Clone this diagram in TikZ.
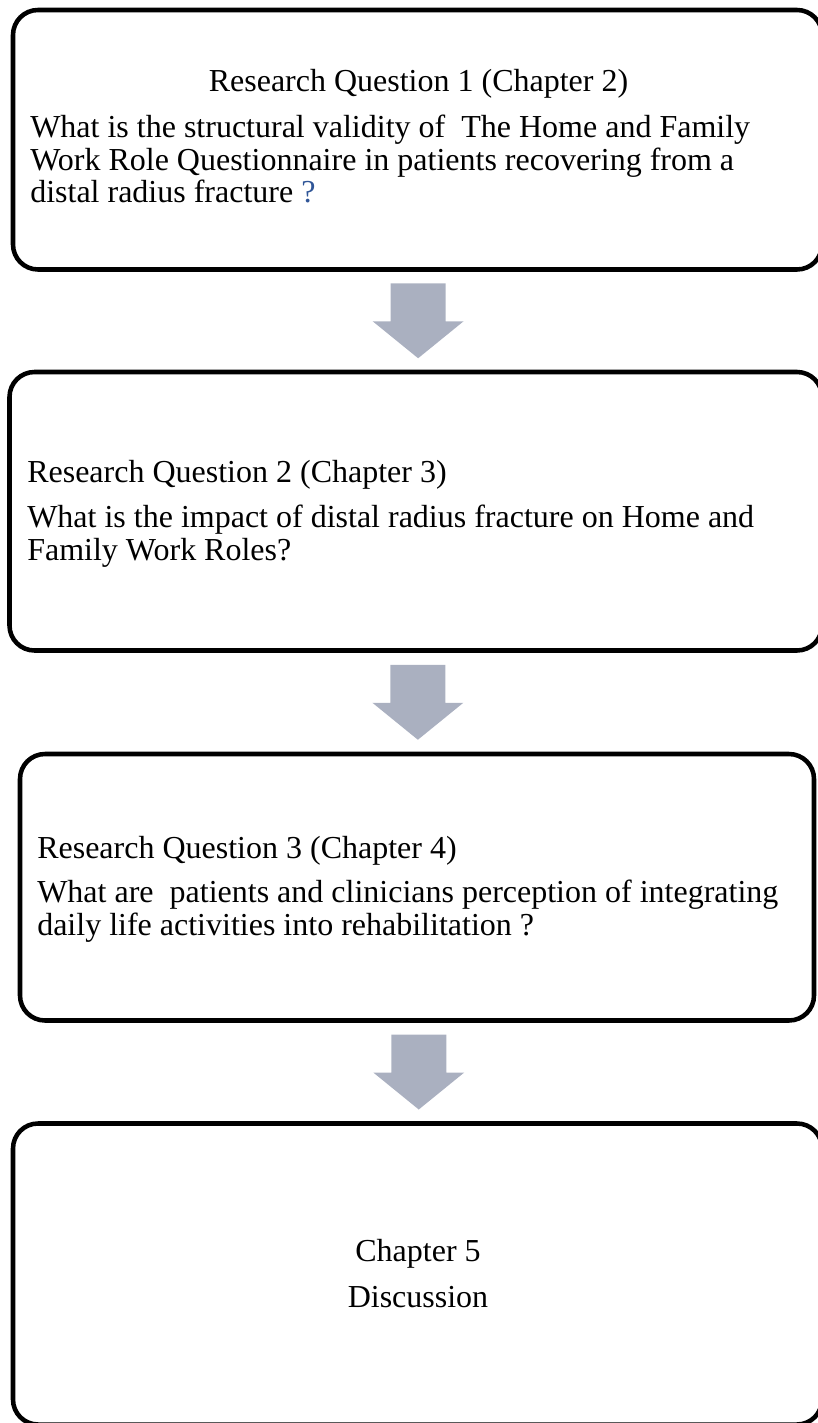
\documentclass[tikz,border=0pt]{standalone}
\usepackage{fontspec}
\setmainfont{Liberation Serif}
\usetikzlibrary{calc}

\definecolor{arrowgray}{RGB}{170,176,192}
\definecolor{qblue}{RGB}{47,85,151}

\def\px{0.75pt}

\tikzset{
    qbox/.style={draw=black, line width=3.4pt, rounded corners=18.75pt, inner sep=0pt, outer sep=0pt},
    qtext/.style={inner sep=0pt, font=\fontsize{24}{24.4}\selectfont}
}

% block arrow between two boxes
\newcommand{\flowarrow}[2]{%
    \coordinate (m) at ($(#1.south)!0.5!(#2.north)+(1.5,0)$);
    \fill[arrowgray] ($(m)+(-27.5,-37.5)$) -- ($(m)+(27.5,-37.5)$) -- ($(m)+(27.5,0.5)$)
        -- ($(m)+(45.5,0.5)$) -- ($(m)+(0,37.5)$) -- ($(m)+(-45.5,0.5)$)
        -- ($(m)+(-27.5,0.5)$) -- cycle;
}

\begin{document}
\begin{tikzpicture}[x=0.75pt,y=-0.75pt]
    % page in px
    \useasboundingbox (0,0) rectangle (817,1423);

    % boxes
    \node[qbox, minimum width=809*\px, minimum height=259.5*\px] (q1) at (417.5,139.75) {};
    \node[qbox, minimum width=812.5*\px, minimum height=278.5*\px] (q2) at (415.75,511.25) {};
    \node[qbox, minimum width=794*\px, minimum height=266.5*\px] (q3) at (417,887.25) {};
    \node[qbox, minimum width=809*\px, minimum height=301*\px] (q4) at (417.5,1274) {};

    % question 1 (body placed at its last baseline)
    \node[qtext, anchor=base] (t1) at (418.5,92) {Research Question 1 (Chapter 2)};
    \node[qtext, anchor=base west, align=left] (b1) at (30,203)
        {What is the structural validity of\ \ The Home and Family\\
         Work Role Questionnaire in patients recovering from a\\
         distal radius fracture {\color{qblue}?}};

    % question 2
    \node[qtext, anchor=base west] (t2) at (27,482) {Research Question 2 (Chapter 3)};
    \node[qtext, anchor=base west, align=left] (b2) at (27,560)
        {What is the impact of distal radius fracture on Home and\\
         Family Work Roles?};

    % question 3
    \node[qtext, anchor=base west] (t3) at (37,858) {Research Question 3 (Chapter 4)};
    \node[qtext, anchor=base west, align=left] (b3) at (37,935)
        {What are\ \ patients and clinicians perception of integrating\\
         daily life activities into rehabilitation ?};

    % discussion
    \node[qtext, anchor=base] (t4) at (418,1261) {Chapter 5};
    \node[qtext, anchor=base] (b4) at (418,1307) {Discussion};

    % arrows
    \flowarrow{q1}{q2}
    \flowarrow{q2}{q3}
    \flowarrow{q3}{q4}
\end{tikzpicture}
\end{document}
